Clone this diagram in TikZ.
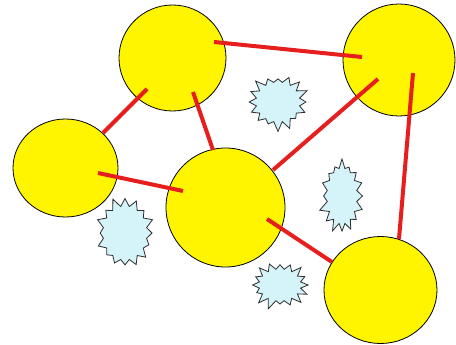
\documentclass[tikz,border=0pt]{standalone}
\usetikzlibrary{shapes.geometric,shapes.symbols,calc}
\definecolor{ball}{RGB}{255,245,0}
\definecolor{link}{RGB}{230,30,30}
\definecolor{burstfill}{RGB}{212,244,250}
\definecolor{burstline}{RGB}{45,45,45}
\tikzset{
  ballnode/.style={ellipse,draw=black,line width=0.8pt,fill=ball,inner sep=0pt},
  linkline/.style={draw=link,line width=4pt},
  burst/.style={starburst,draw=burstline,fill=burstfill,line width=0.8pt,inner sep=0pt,starburst points=16,starburst point height=10pt}
}
\begin{document}
\begin{tikzpicture}[x=1pt,y=-1pt]
\useasboundingbox (0,0) rectangle (456,345);
\node[ballnode,minimum width=107pt,minimum height=106pt] (A) at (172.5,58) {};
\node[ballnode,minimum width=112pt,minimum height=112pt] (B) at (399,60) {};
\node[ballnode,minimum width=105pt,minimum height=98pt] (C) at (65.5,168) {};
\node[ballnode,minimum width=119pt,minimum height=119pt] (D) at (225.5,207.5) {};
\node[ballnode,minimum width=113pt,minimum height=107pt] (E) at (380.5,290) {};
\node[burst,random starburst=3,minimum width=64pt,minimum height=60pt] (S1) at (278,102) {};
\node[burst,random starburst=7,minimum width=50pt,minimum height=76pt] (S2) at (342,196) {};
\node[burst,random starburst=11,minimum width=64pt,minimum height=74pt] (S3) at (125,233) {};
\node[burst,random starburst=19,minimum width=62pt,minimum height=52pt] (S4) at (280,285) {};
\draw[linkline] ($(A)+(41.5,-16)$) -- ($(B)+(-37,-3)$);
\draw[linkline] ($(A)+(-25.5,31)$) -- ($(C)+(37.5,-35)$);
\draw[linkline] ($(A)+(20.5,34)$) -- ($(D)+(-12.5,-57.5)$);
\draw[linkline] ($(C)+(32.5,5)$) -- ($(D)+(-42.5,-16.5)$);
\draw[linkline] ($(D)+(47.5,-37.5)$) -- ($(B)+(-21,19)$);
\draw[linkline] ($(B)+(14,13)$) -- ($(E)+(18.5,-51)$);
\draw[linkline] ($(D)+(41.5,11.5)$) -- ($(E)+(-48.5,-28)$);
\end{tikzpicture}
\end{document}
